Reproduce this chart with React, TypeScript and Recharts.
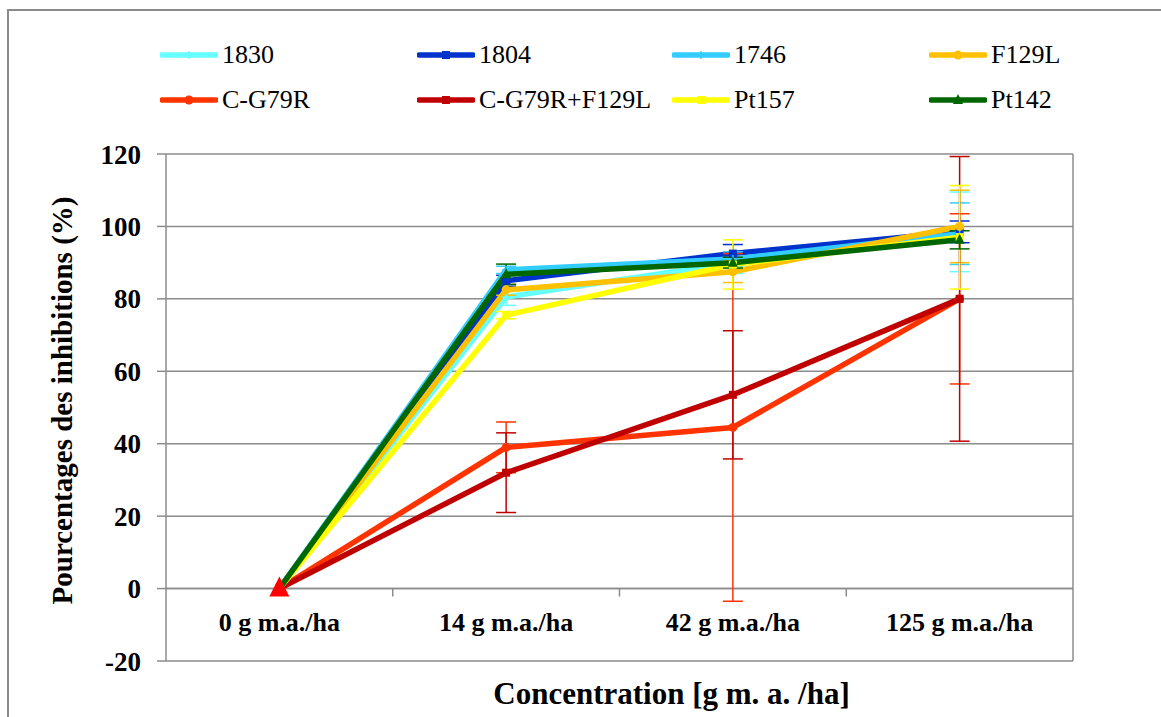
import * as React from "react";
import {
  ComposedChart,
  Line,
  XAxis,
  YAxis,
  CartesianGrid,
  ErrorBar,
  ReferenceLine,
} from "recharts";

const categories = ["0 g m.a./ha", "14 g m.a./ha", "42 g m.a./ha", "125 g m.a./ha"];
const yTicks = [-20, 0, 20, 40, 60, 80, 100, 120];

const v1830 = [0, 80.5, 90, 98.5];
const e1830 = [0, 2.3, 3, 11];
const v1804 = [0, 85, 92.5, 98.5];
const e1804 = [0, 1.5, 2.5, 3];
const v1746 = [0, 88, 91, 98];
const e1746 = [0, 1, 2, 8.5];
const vF129L = [0, 82.5, 87.5, 100];
const eF129L = [0, 1.5, 3, 10];
const vCG79R = [0, 39, 44.5, 80];
const eCG79R = [0, 7, 48, 23.5];
const vCG79RF = [0, 32, 53.5, 80];
const eCG79RF = [0, 11, 17.7, 39.3];
const vPt157 = [0, 75.5, 89.5, 97];
const ePt157 = [0, 1, 6.8, 14.3];
const vPt142 = [0, 86.8, 90, 96.3];
const ePt142 = [0, 2.8, 1.5, 2.5];
// big red triangle sitting on the origin point
const originMark = [0, null, null, null];

type Shape = "cross" | "square" | "circle" | "triangle";

const series: { key: string; name: string; color: string; shape: Shape; values: number[]; errors: number[] }[] = [
  { key: "s1830", name: "1830", color: "#66ffff", shape: "cross", values: v1830, errors: e1830 },
  { key: "s1804", name: "1804", color: "#0033cc", shape: "square", values: v1804, errors: e1804 },
  { key: "s1746", name: "1746", color: "#33ccff", shape: "cross", values: v1746, errors: e1746 },
  { key: "sF129L", name: "F129L", color: "#ffc000", shape: "circle", values: vF129L, errors: eF129L },
  { key: "sCG79R", name: "C-G79R", color: "#ff3300", shape: "circle", values: vCG79R, errors: eCG79R },
  { key: "sCG79RF", name: "C-G79R+F129L", color: "#c00000", shape: "square", values: vCG79RF, errors: eCG79RF },
  { key: "sPt157", name: "Pt157", color: "#ffff00", shape: "square", values: vPt157, errors: ePt157 },
  { key: "sPt142", name: "Pt142", color: "#006600", shape: "triangle", values: vPt142, errors: ePt142 },
];

const data = categories.map((cat, i) => {
  const row: Record<string, any> = { cat, origin: originMark[i] };
  series.forEach((s) => {
    row[s.key] = s.values[i];
    row[s.key + "_err"] = s.errors[i];
  });
  return row;
});

const FONT = "Liberation Serif";
const GRID = "#8c8c8c";

// plot layout
const W = 1161;
const H = 717;
const TOP = 154;
const BOTTOM = 661;
const LEFT = 166;
const RIGHT = 1073;
const ZERO_Y = TOP + ((BOTTOM - TOP) * 120) / 140;
const BAND = (RIGHT - LEFT) / categories.length;

function marker(shape: Shape, color: string, cx: number, cy: number, key?: React.Key, scale = 1) {
  if (shape === "square") {
    const s = 8 * scale;
    return <rect key={key} x={cx - s / 2} y={cy - s / 2} width={s} height={s} fill={color} />;
  }
  if (shape === "circle") {
    return <circle key={key} cx={cx} cy={cy} r={4.5 * scale} fill={color} />;
  }
  if (shape === "triangle") {
    const s = 5 * scale;
    return (
      <polygon
        key={key}
        points={`${cx},${cy - s * 1.2} ${cx - s},${cy + s * 0.8} ${cx + s},${cy + s * 0.8}`}
        fill={color}
      />
    );
  }
  return (
    <g key={key} stroke={color} strokeWidth={1.5}>
      <line x1={cx - 4} y1={cy} x2={cx + 4} y2={cy} />
      <line x1={cx} y1={cy - 4} x2={cx} y2={cy + 4} />
    </g>
  );
}

const makeDot = (shape: Shape, color: string, scale = 1) => (props: any) => {
  const { cx, cy, index, value } = props;
  if (value == null || cx == null || cy == null) return <g key={index} />;
  return marker(shape, color, cx, cy, index, scale);
};

const CategoryTick = (props: any) => {
  const { x, payload, index } = props;
  return (
    <g>
      <text
        x={x}
        y={ZERO_Y + 34}
        textAnchor="middle"
        dominantBaseline="central"
        style={{ fontFamily: FONT, fontWeight: "bold", fontSize: 26 }}
        fill="#000"
      >
        {payload.value}
      </text>
      {index < categories.length - 1 && (
        <line x1={x + BAND / 2} y1={ZERO_Y} x2={x + BAND / 2} y2={ZERO_Y + 8} stroke={GRID} strokeWidth={1.5} />
      )}
    </g>
  );
};

const legendCols = [160, 417, 672, 929];
const legendRows = [55, 100];

function LegendBox() {
  return (
    <>
      {series.map((s, i) => {
        const left = legendCols[i % 4];
        const top = legendRows[Math.floor(i / 4)];
        return (
          <div
            key={s.key}
            style={{
              position: "absolute",
              left,
              top: top - 16,
              height: 32,
              display: "flex",
              alignItems: "center",
              fontFamily: FONT,
              fontSize: 26,
              color: "#000",
              whiteSpace: "nowrap",
            }}
          >
            <svg width={58} height={20} style={{ marginRight: 4 }}>
              <line x1={2} y1={10} x2={56} y2={10} stroke={s.color} strokeWidth={5.5} strokeLinecap="round" />
              {marker(s.shape, s.color, 29, 10)}
            </svg>
            {s.name}
          </div>
        );
      })}
    </>
  );
}

export default function App() {
  return (
    <div
      style={{
        position: "fixed",
        left: 0,
        top: 0,
        width: W,
        height: H,
        overflow: "hidden",
        background: "#fff",
        fontFamily: FONT,
      }}
    >
      <div
        style={{
          position: "absolute",
          left: 7,
          top: 9,
          width: 1300,
          height: 900,
          border: "2px solid #8a8a8a",
        }}
      />
      <LegendBox />
      <div style={{ position: "absolute", left: 0, top: 0 }}>
        <ComposedChart
          width={W}
          height={H}
          data={data}
          margin={{ top: TOP, right: W - RIGHT - 1, left: 30, bottom: 0 }}
          style={{ fontFamily: FONT }}
        >
          <CartesianGrid vertical={false} stroke={GRID} strokeWidth={1.5} />
          <XAxis
            dataKey="cat"
            height={H - BOTTOM}
            axisLine={false}
            tickLine={false}
            interval={0}
            padding={{ left: BAND / 2, right: BAND / 2 }}
            tick={<CategoryTick />}
            label={(props: any) => {
              const vb = props.viewBox;
              return (
                <text
                  x={vb.x + vb.width / 2 + 52}
                  y={vb.y + 32}
                  textAnchor="middle"
                  dominantBaseline="central"
                  style={{ fontFamily: FONT, fontWeight: "bold", fontSize: 31 }}
                  fill="#000"
                >
                  Concentration [g m. a. /ha]
                </text>
              );
            }}
          />
          <YAxis
            domain={[-20, 120]}
            ticks={yTicks}
            width={LEFT - 30}
            allowDataOverflow
            stroke={GRID}
            strokeWidth={1.5}
            tickSize={9}
            tickMargin={16}
            tick={{ fontFamily: FONT, fontWeight: "bold", fontSize: 27, fill: "#000" }}
            label={(props: any) => {
              const vb = props.viewBox;
              const cx = vb.x + 32;
              const cy = vb.y + vb.height / 2 - 7;
              return (
                <text
                  x={cx}
                  y={cy}
                  transform={`rotate(-90 ${cx} ${cy})`}
                  textAnchor="middle"
                  dominantBaseline="central"
                  style={{ fontFamily: FONT, fontWeight: "bold", fontSize: 29 }}
                  fill="#000"
                >
                  Pourcentages des inhibitions (%)
                </text>
              );
            }}
          />
          <YAxis
            yAxisId="r"
            orientation="right"
            domain={[-20, 120]}
            width={1}
            tick={false}
            tickLine={false}
            stroke={GRID}
            strokeWidth={1.5}
          />
          <ReferenceLine y={0} stroke={GRID} strokeWidth={1.5} />
          {series.map((s) => (
            <Line
              key={s.key}
              dataKey={s.key}
              name={s.name}
              stroke={s.color}
              strokeWidth={5.5}
              strokeLinejoin="round"
              dot={makeDot(s.shape, s.color)}
              activeDot={false}
              isAnimationActive={false}
            >
              <ErrorBar
                dataKey={s.key + "_err"}
                direction="y"
                width={10}
                stroke={s.color}
                strokeWidth={1.5}
                isAnimationActive={false}
              />
            </Line>
          ))}
          <Line
            dataKey="origin"
            stroke="none"
            legendType="none"
            dot={makeDot("triangle", "#ff0000", 2)}
            activeDot={false}
            isAnimationActive={false}
          />
        </ComposedChart>
      </div>
    </div>
  );
}
